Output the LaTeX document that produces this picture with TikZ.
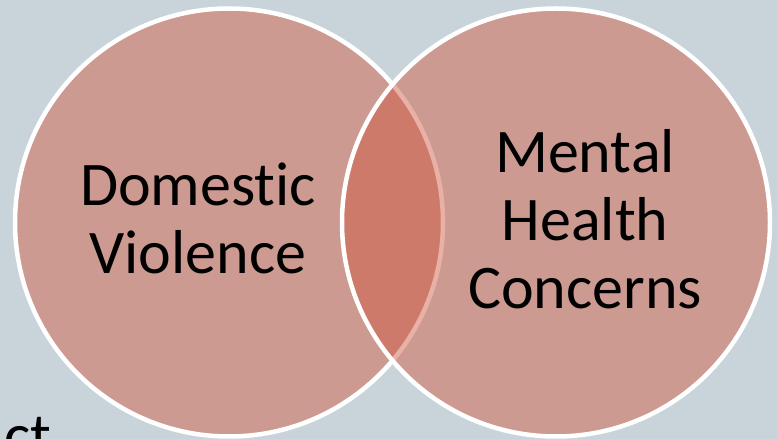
\documentclass[tikz,border=0pt]{standalone}
\usepackage{fontspec}
\setmainfont{Carlito}[Ligatures={NoCommon,NoRare}]
\usepackage{xcolor}
\definecolor{slidebg}{RGB}{200,212,218}
\definecolor{vennfill}{RGB}{209,86,61}

\begin{document}
\begin{tikzpicture}[x=1pt,y=1pt,
  venn/.style={fill=vennfill, fill opacity=0.46, draw=white, line width=4.5pt},
  label/.style={inner sep=0pt, align=center, text=black, font=\fontsize{62}{68}\selectfont}]
% slide background
\useasboundingbox (0,0) rectangle (777,439);
\clip (0,0) rectangle (777,439);
\fill[slidebg] (0,0) rectangle (777,439);

% the two sets
\draw[venn] (229,216.5) circle (214);
\draw[venn] (556,216.5) circle (214);

% set labels
\node[label] (dv) at (198,220.5) {Domestic\\Violence};
\node[label] (mh) at (585,220) {Mental\\Health\\Concerns};

% cut-off slide text
\node[label, anchor=base west] (rest) at (4,-18) {ct};
\end{tikzpicture}
\end{document}
